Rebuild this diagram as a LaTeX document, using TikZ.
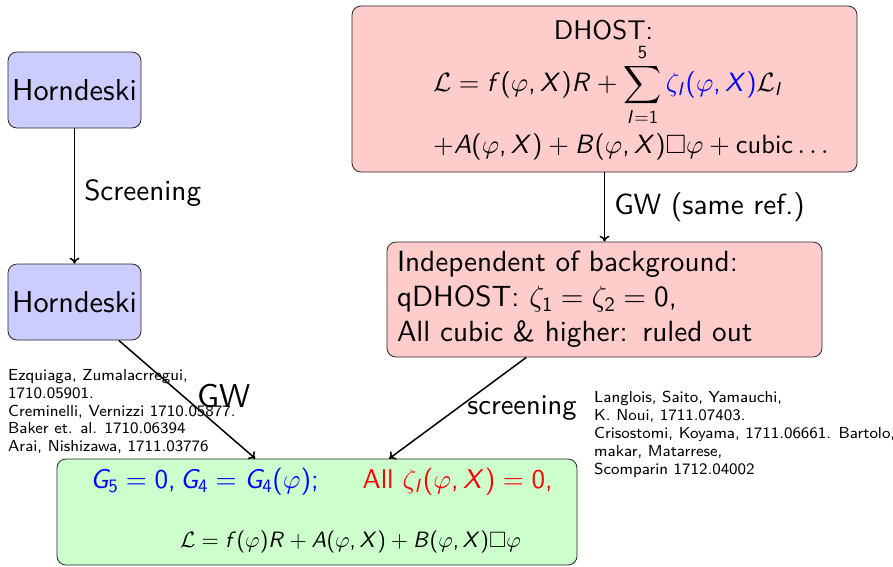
\documentclass[tikz,border=0pt]{standalone}
\usepackage{amsmath,amssymb}
\usepackage[no-math]{fontspec}
\usetikzlibrary{arrows.meta}
\setsansfont{lmsans10-regular.otf}
\newfontfamily\refsans{lmsans8-regular.otf}
\renewcommand\familydefault{\sfdefault}
\DeclareFontFamily{OT1}{sften}{}
\DeclareFontShape{OT1}{sften}{m}{n}{<-> cmss10}{}
\DeclareFontShape{OT1}{sften}{m}{sl}{<-> cmssi10}{}
\DeclareFontShape{OML}{cmm}{m}{it}{<-> cmmi10}{}
\DeclareFontShape{OMS}{cmsy}{m}{n}{<-> cmsy10}{}
\DeclareFontShape{OT1}{cmr}{m}{n}{<-> cmr10}{}
\DeclareFontShape{OMX}{cmex}{m}{n}{<-> cmex10}{}
\DeclareSymbolFont{sfup}{OT1}{sften}{m}{n}
\DeclareSymbolFont{sfit}{OT1}{sften}{m}{sl}
\DeclareMathSymbol{f}{\mathalpha}{sfit}{"66}
\DeclareMathSymbol{A}{\mathalpha}{sfit}{"41}
\DeclareMathSymbol{B}{\mathalpha}{sfit}{"42}
\DeclareMathSymbol{G}{\mathalpha}{sfit}{"47}
\DeclareMathSymbol{I}{\mathalpha}{sfit}{"49}
\DeclareMathSymbol{R}{\mathalpha}{sfit}{"52}
\DeclareMathSymbol{X}{\mathalpha}{sfit}{"58}
\DeclareMathSymbol{0}{\mathalpha}{sfup}{"30}
\DeclareMathSymbol{1}{\mathalpha}{sfup}{"31}
\DeclareMathSymbol{2}{\mathalpha}{sfup}{"32}
\DeclareMathSymbol{4}{\mathalpha}{sfup}{"34}
\DeclareMathSymbol{5}{\mathalpha}{sfup}{"35}
\DeclareMathSymbol{(}{\mathopen}{sfup}{"28}
\DeclareMathSymbol{)}{\mathclose}{sfup}{"29}
\DeclareMathSymbol{,}{\mathpunct}{sfup}{"2C}
\DeclareMathSymbol{;}{\mathpunct}{sfup}{"3B}
\newcommand{\bigtxt}{\fontsize{29.2}{35}\selectfont}
\newcommand{\hortxt}{\fontsize{30.3}{35}\selectfont}
\newcommand{\dhtitle}{\fontsize{27}{30}\selectfont}
\newcommand{\dhtxt}{\fontsize{26.5}{30}\selectfont}
\newcommand{\grAtxt}{\fontsize{27.1}{32}\selectfont}
\newcommand{\grBtxt}{\fontsize{22.2}{28}\selectfont}
\newcommand{\reftxt}{\refsans\fontsize{15.95}{17.9}\selectfont}
\tikzset{
  box/.style={draw=black!85, line width=0.8pt, rounded corners=9pt, inner sep=0pt},
  hbox/.style={box, fill=blue!20, minimum width=133pt, minimum height=76pt, font=\hortxt},
  conn/.style={-{To[length=6pt,width=10pt]}, line width=1.5pt},
  lbl/.style={font=\bigtxt, inner ysep=0pt, inner xsep=9pt},
  reftext/.style={font=\reftxt, align=left, inner sep=0pt, anchor=north west},
}
\begin{document}
\begin{tikzpicture}[x=1pt,y=-1pt]
\useasboundingbox (0,0) rectangle (893,566);
% boxes
\node[hbox] (h1) at (74.5,90) {Horndeski};
\node[hbox] (h2) at (74.5,302) {Horndeski};
\node[box, fill=red!20, minimum width=505pt, minimum height=166pt] (dh) at (604.5,89) {};
\node[font=\dhtitle] (dhT) at (603.5,30) {DHOST:};
\node[font=\dhtxt, anchor=west, inner sep=0pt] (dhE) at (433,85) {$\displaystyle \mathcal{L}=f(\varphi,X)R+\sum_{I=1}^{5}\textcolor{blue}{\zeta_I(\varphi,X)}\mathcal{L}_I$};
\node[font=\dhtxt, anchor=west, inner sep=0pt] (dhF) at (433,147) {$+A(\varphi,X)+B(\varphi,X)\Box\varphi+\text{cubic}\ldots$};
\node[box, fill=red!20, text width=415pt, inner xsep=10pt, minimum height=115pt, align=left, font=\bigtxt] (mid) at (604.5,299.5)
  {Independent of background:\\ qDHOST: $\zeta_1=\zeta_2=0$,\\ All cubic \& higher: ruled out};
\node[box, fill=green!20, minimum width=520pt, minimum height=106pt] (gr) at (317,512) {};
\node[font=\grAtxt] (grA) at (321.5,482) {\textcolor{blue}{$G_5=0, G_4=G_4(\varphi)$;}\hspace{44pt}\textcolor{red}{All $\zeta_I(\varphi,X)=0$,}};
\node[font=\grBtxt] (grB) at (350.5,542) {$\mathcal{L}=f(\varphi)R+A(\varphi,X)+B(\varphi,X)\Box\varphi$};
% connectors
\draw[conn] (h1) -- node[midway,right,lbl,yshift=3pt] (l1) {Screening} (h2);
\draw[conn] (dh) -- node[midway,right,lbl] (l2) {GW (same ref.)} (mid);
\draw[conn] (h2) -- node[midway,right,lbl,font=\fontsize{33}{36}\selectfont,xshift=1pt,yshift=3pt] (l3) {GW} (gr);
\draw[conn] (mid) -- node[midway,right,lbl,font=\fontsize{28.5}{34}\selectfont] (l4) {screening} (gr);
% references
\node[reftext] (refL) at (8,369) {Ezquiaga, Zumalacrregui,\\1710.05901.\\Creminelli, Vernizzi 1710.05877.\\Baker et. al. 1710.06394\\Arai, Nishizawa, 1711.03776};
\node[reftext] (refR) at (594,391) {Langlois, Saito, Yamauchi,\\K. Noui, 1711.07403.\\Crisostomi, Koyama, 1711.06661. Bartolo,\\makar, Matarrese,\\Scomparin 1712.04002};
\end{tikzpicture}
\end{document}
